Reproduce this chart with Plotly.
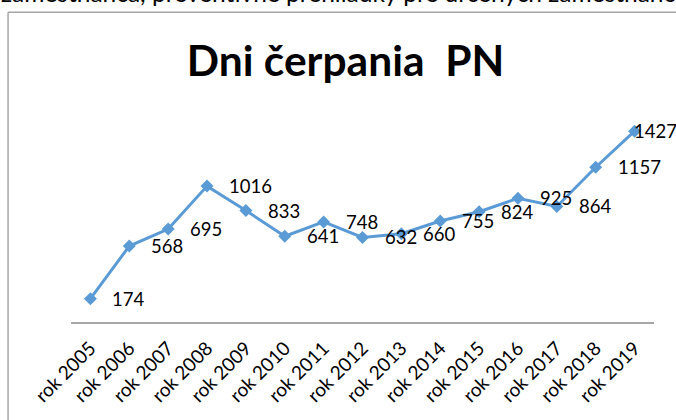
import plotly.graph_objects as go

# data
years = ["rok 2005", "rok 2006", "rok 2007", "rok 2008", "rok 2009", "rok 2010",
         "rok 2011", "rok 2012", "rok 2013", "rok 2014", "rok 2015", "rok 2016",
         "rok 2017", "rok 2018", "rok 2019"]
days = [174, 568, 695, 1016, 833, 641, 748, 632, 660, 755, 824, 925, 864, 1157, 1427]

W, H = 676, 420
ML, MR, MT, MB = 70.5, 22, 107.5, 98
PW, PH = W - ML - MR, H - MT - MB


def px_x(p):
    return (p - ML) / PW


def px_y(p):
    return (H - MB - p) / PH


BLUE = "#5B9BD5"
FONT = "Lato"
FRAME = "#A6A6A6"

fig = go.Figure()
fig.add_trace(go.Scatter(
    x=years, y=days, mode="lines+markers",
    line=dict(color=BLUE, width=3),
    marker=dict(symbol="diamond", size=10, color=BLUE),
    hoverinfo="x+y", showlegend=False,
))

# value labels sit to the right of each point (last one squeezed in)
for i, (yr, v) in enumerate(zip(years, days)):
    shift = 20 if i < len(years) - 1 else -3
    fig.add_annotation(x=yr, y=v, text=str(v), showarrow=False,
                       xanchor="left", yanchor="middle", xshift=shift,
                       font=dict(family=FONT, size=18.5, color="#000000"))

# text of the page above the chart, cut off at the top
fig.add_annotation(xref="paper", yref="paper", x=px_x(-2), y=px_y(8),
                   xanchor="left", yanchor="bottom", showarrow=False,
                   text="zamestnanca, preventívne prehliadky pre určených zamestnancov",
                   font=dict(family=FONT, size=24.5, color="#000000"))

# chart frame: only the left and top edges fall inside the picture
fig.add_shape(type="line", xref="paper", yref="paper",
              x0=px_x(7.5), x1=px_x(7.5), y0=px_y(H + 5), y1=px_y(11.5),
              line=dict(color=FRAME, width=1.5))
fig.add_shape(type="line", xref="paper", yref="paper",
              x0=px_x(7.5), x1=px_x(W + 5), y0=px_y(11.5), y1=px_y(11.5),
              line=dict(color=FRAME, width=1.5))

fig.update_layout(
    width=W, height=H, autosize=False,
    margin=dict(l=ML, r=MR, t=MT, b=MB, pad=0),
    paper_bgcolor="white", plot_bgcolor="white",
    title=dict(text="<b>Dni čerpania  PN</b>", x=345.5 / W, xanchor="center",
               y=1 - 61 / H, yanchor="middle",
               font=dict(family=FONT, size=42.5, color="#000000")),
    xaxis=dict(type="category", range=[-0.5, 14.5], showline=True,
               linecolor=FRAME, linewidth=1.5, showgrid=False,
               ticks="outside", ticklen=6, tickcolor="rgba(0,0,0,0)",
               tickangle=-45, fixedrange=True,
               tickfont=dict(family=FONT, size=19, color="#000000")),
    yaxis=dict(range=[0, 1600], visible=False, fixedrange=True),
)

# the page's default body margin would push the chart 8px down/right
fig.write_html("out.html", config={"displayModeBar": False},
               post_script="document.body.style.margin='0';"
                           "document.body.style.overflow='hidden';")
